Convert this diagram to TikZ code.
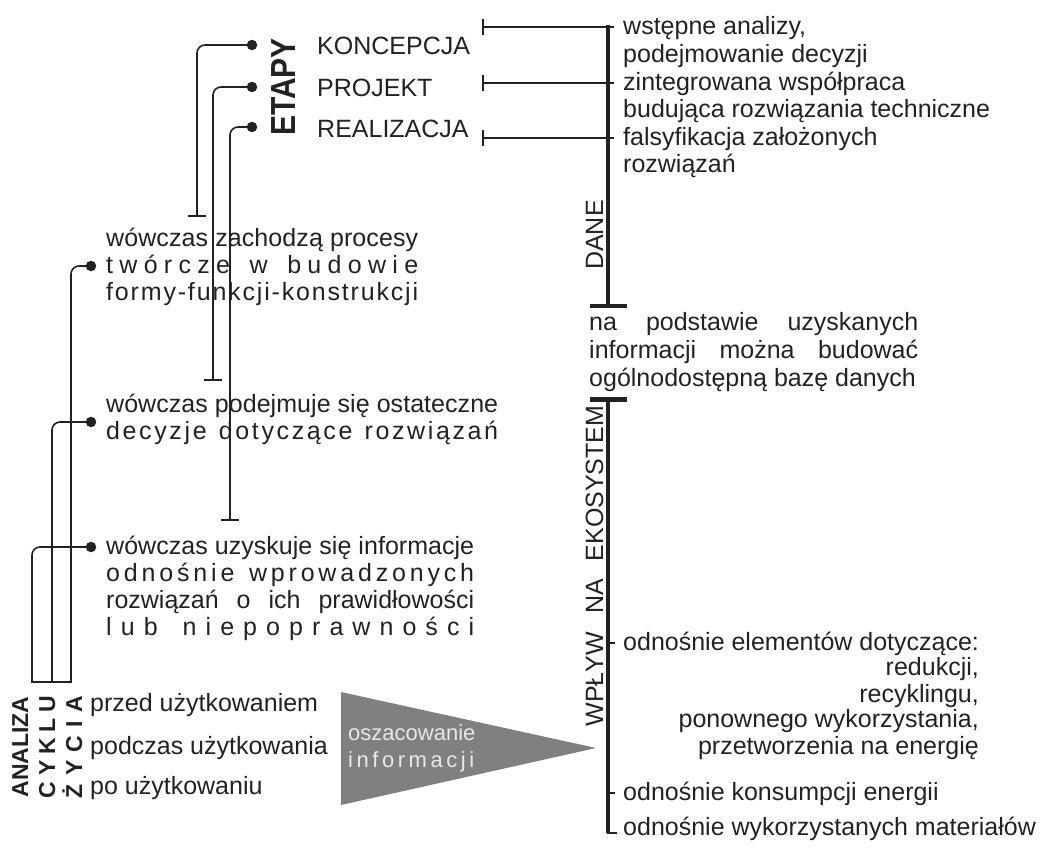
\documentclass[tikz,border=0pt]{standalone}
\usepackage{fontspec}
\setmainfont{Liberation Sans}
\usetikzlibrary{arrows.meta}
\definecolor{ink}{HTML}{222222}
\definecolor{tri}{HTML}{808080}
\definecolor{trit}{HTML}{E8E8E8}
\def\spreadloop#1{\ifx\relax#1\else\ifx|#1\hskip0.278em\hfil\else#1\hfil\fi\expandafter\spreadloop\fi}
\newcommand\sprd[2]{\makebox[#1][s]{\spreadloop#2\relax\unskip}}
\newcommand\fsn{\fontsize{25}{27}\selectfont}
\begin{document}
\begin{tikzpicture}[x=1pt,y=-1pt,
  txt/.style={anchor=base west, inner sep=0, font=\fsn, text=ink},
  txtr/.style={anchor=base east, inner sep=0, font=\fsn, text=ink},
  vlab/.style={rotate=90, anchor=base, inner sep=0, text=ink},
  thinl/.style={draw=ink, line width=1.6pt},
  thickl/.style={draw=ink, line width=4.5pt},
  dot/.style={circle, fill=ink, inner sep=0, minimum size=10.5pt},
  tcap/.style={-{Bar[width=18pt,line width=2.2pt]}},
  tcapl/.style={{Bar[width=16pt,line width=2.2pt]}-}]
\useasboundingbox (0,0) rectangle (1040,847);

% ---------- ETAPY ----------
\node[vlab, font=\bfseries\fontsize{30}{30}\selectfont] (etapy) at (295,87) {\scalebox{1}[1.16]{ETAPY}};
\node[dot] (bk) at (252,45) {};
\node[dot] (bp) at (252,87) {};
\node[dot] (br) at (252,127) {};
\node[txt] (konc) at (317,54) {KONCEPCJA};
\node[txt] (proj) at (317,96) {PROJEKT};
\node[txt] (real) at (317,137) {REALIZACJA};

\coordinate (tk) at (197,217);
\coordinate (tp) at (213,381);
\coordinate (tr) at (230,521);
\draw[thinl, rounded corners=8pt, tcap] (bk.center) -| (tk);
\draw[thinl, rounded corners=8pt, tcap] (bp.center) -| (tp);
\draw[thinl, rounded corners=8pt, tcap] (br.center) -| (tr);

% ---------- DANE axis ----------
\coordinate (ax1) at (608,25);
\coordinate (ax2) at (608,308);
\coordinate (ax3) at (608,397);
\coordinate (ax4) at (608,833);
\draw[thickl, -{Bar[width=37pt,line width=4.5pt]}] (ax1) -- (ax2);
\draw[thickl, {Bar[width=37pt,line width=4.5pt]}-] (ax3) -- (ax4);
\draw[thinl] ([xshift=-1pt]ax4) -- ++(10,0);

\coordinate (rk) at (482,27);
\coordinate (rp) at (482,83);
\coordinate (rr) at (482,138);
\draw[thinl, tcapl] (rk) -- (614,27);
\draw[thinl, tcapl] (rp) -- (614,83);
\draw[thinl, tcapl] (rr) -- (614,138);
\draw[thinl] (608,643) -- (615,643);
\draw[thinl] (608,793) -- (615,793);

\node[vlab, font=\fsn] (dane) at (603,235) {DANE};
\node[vlab, font=\fsn] (wplyw) at (603,566) {WPŁYW\hspace{18pt}NA\hspace{18pt}EKOSYSTEM};

\node[txt] at (623,34) {wstępne analizy,};
\node[txt] at (623,62) {podejmowanie decyzji};
\node[txt] at (623,90) {zintegrowana współpraca};
\node[txt] at (623,117) {budująca rozwiązania techniczne};
\node[txt] at (623,145) {falsyfikacja założonych};
\node[txt] at (623,172) {rozwiązań};

\node[txt] at (589,330) {\makebox[329pt][s]{na podstawie uzyskanych}};
\node[txt] at (589,358) {\makebox[329pt][s]{informacji można budować}};
\node[txt] at (589,386) {ogólnodostępną bazę danych};

\node[txt] at (623,650) {odnośnie elementów dotyczące:};
\node[txtr] at (979,675) {redukcji,};
\node[txtr] at (979,702) {recyklingu,};
\node[txtr] at (979,727) {ponownego wykorzystania,};
\node[txtr] at (979,754) {przetworzenia na energię};
\node[txt] at (623,800) {odnośnie konsumpcji energii};
\node[txt] at (623,835) {odnośnie wykorzystanych materiałów};

% ---------- left paragraphs ----------
\node[txt] (p1a) at (106,246) {\sprd{312pt}{wówczas|zachodzą|procesy}};
\node[txt] (p1b) at (106,273) {\sprd{312pt}{twórcze|w|budowie}};
\node[txt] (p1c) at (106,300) {\sprd{312pt}{formy-funkcji-konstrukcji}};

\node[txt] (p2a) at (106,412) {\sprd{392pt}{wówczas|podejmuje|się|ostateczne}};
\node[txt] (p2b) at (106,439) {\sprd{392pt}{decyzje|dotyczące|rozwiązań}};

\node[txt] (p3a) at (106,554) {\sprd{368pt}{wówczas|uzyskuje|się|informacje}};
\node[txt] (p3b) at (106,581) {\sprd{368pt}{odnośnie|wprowadzonych}};
\node[txt] (p3c) at (106,608) {\makebox[368pt][s]{rozwiązań o ich prawidłowości}};
\node[txt] (p3d) at (106,635) {\sprd{368pt}{lub|niepoprawności}};

\node[dot] (b1) at (91,266) {};
\node[dot] (b2) at (91,422) {};
\node[dot] (b3) at (91,547) {};
\coordinate (c1) at (71,682);
\coordinate (c2) at (52,682);
\coordinate (c3) at (32,682);
\draw[thinl, rounded corners=8pt] (b1.center) -| (c1);
\draw[thinl, rounded corners=8pt] (b2.center) -| (c2);
\draw[thinl, rounded corners=8pt] (b3.center) -| (c3);
\draw[thinl, line cap=rect] (c3) -- (c1);

% ---------- life cycle ----------
\node[vlab, font=\bfseries\fontsize{23}{23}\selectfont] (an) at (28,747) {ANALIZA};
\node[vlab, font=\bfseries\fontsize{23}{23}\selectfont] (cy) at (55,747) {\sprd{102pt}{CYKLU}};
\node[vlab, font=\bfseries\fontsize{23}{23}\selectfont] (zy) at (82,747) {\sprd{102pt}{ŻYCIA}};
\node[txt] (przed) at (90,711) {przed użytkowaniem};
\node[txt] (podcz) at (90,754) {podczas użytkowania};
\node[txt] (po) at (90,794) {po użytkowaniu};

\fill[tri] (341,692) -- (341,805) -- (596,748) -- cycle;
\node[anchor=base west, inner sep=0, font=\fontsize{22}{24}\selectfont, text=trit] (osz) at (348,740) {oszacowanie};
\node[anchor=base west, inner sep=0, font=\fontsize{22}{24}\selectfont, text=trit] (inf) at (348,767) {\sprd{126pt}{informacji}};
\end{tikzpicture}
\end{document}
